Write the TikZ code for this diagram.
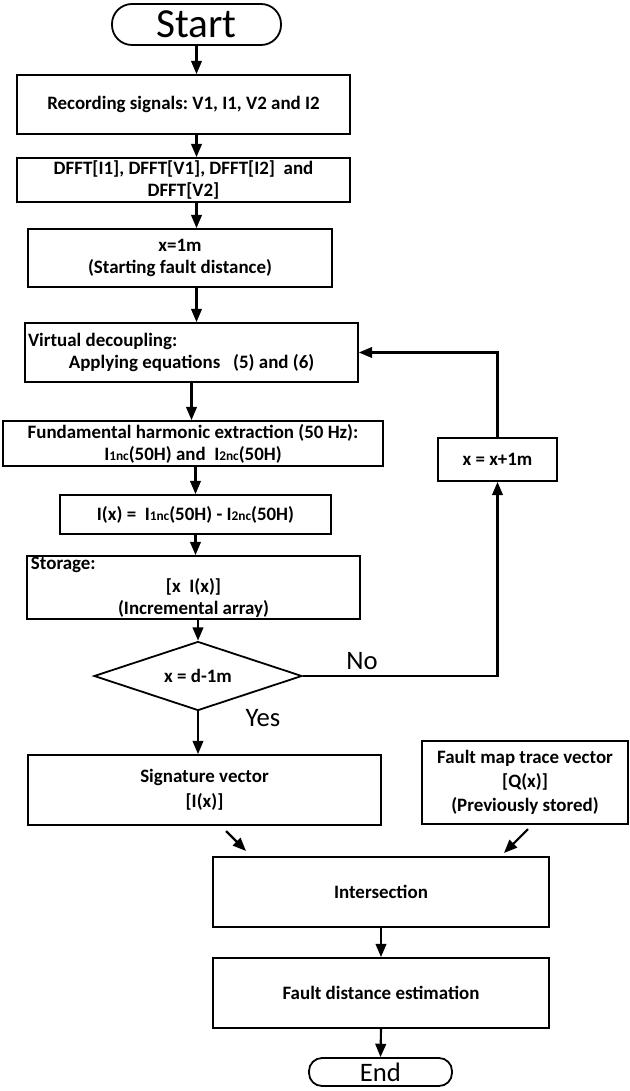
\documentclass[tikz,border=0pt]{standalone}
\usepackage{fontspec}
\setmainfont{Carlito}
\usetikzlibrary{shapes.geometric,arrows.meta}
\newdimen\pxu \pxu=0.75pt
\newcommand\sbs[1]{\raisebox{-0.6pt}{\fontsize{10}{10}\selectfont #1}}
\frenchspacing
\begin{document}
\begin{tikzpicture}[x=0.75pt,y=-0.75pt,
  box/.style={draw, line width=1.35pt, inner sep=0pt, align=center,
    font=\bfseries\fontsize{14.2}{16.5}\selectfont},
  term/.style={draw, line width=1.35pt, inner sep=0pt},
  arr/.style={line width=1.6pt, -{Triangle[length=10pt,width=8pt]}},
  lbl/.style={inner sep=0pt, font=\fontsize{20}{20}\selectfont}]
\useasboundingbox (0,0) rectangle (630,1091);

\node[term, rounded corners=20\pxu, minimum width=169\pxu, minimum height=41\pxu,
  font=\fontsize{31}{31}\selectfont] (start) at (196.5,24.5) {Start};
\node[box, minimum width=333\pxu, minimum height=59\pxu] (rec) at (183.5,104.5)
  {Recording signals: V1, I1, V2 and I2};
\node[box, minimum width=333\pxu, minimum height=44\pxu] (dfft) at (183.5,180)
  {DFFT[I1], DFFT[V1], DFFT[I2]\ \ and\\DFFT[V2]};
\node[box, minimum width=304\pxu, minimum height=58\pxu] (xone) at (180,258)
  {x=1m\\(Starting fault distance)};
\node[box, minimum width=333\pxu, minimum height=59\pxu] (virt) at (191.5,352.5)
  {\parbox{327\pxu}{\centering\makebox[\hsize][l]{Virtual decoupling:}\\Applying equations\ \ \ (5) and (6)}};
\node[box, minimum width=380\pxu, minimum height=45\pxu] (fund) at (193,443.5)
  {Fundamental harmonic extraction (50 Hz):\\I\sbs{1nc}(50H) and\ \ I\sbs{2nc}(50H)};
\node[box, minimum width=271\pxu, minimum height=39\pxu] (ix) at (195.5,514.5)
  {I(x) =\ \ I\sbs{1nc}(50H) - I\sbs{2nc}(50H)};
\node[box, minimum width=333\pxu, minimum height=63\pxu,
  font=\bfseries\fontsize{14.2}{16.9}\selectfont] (stor) at (193.5,587.5)
  {\raisebox{-4\pxu}{\parbox{325\pxu}{\centering\makebox[\hsize][l]{Storage:}\\{}[x\ \ I(x)]\\(Incremental array)}}};
\node[box, diamond, aspect=3, minimum width=208\pxu, minimum height=69\pxu] (dia) at (198,676)
  {x = d-1m};
\node[box, minimum width=119\pxu, minimum height=43\pxu] (inc) at (497.5,459.5) {x = x+1m};
\node[box, minimum width=353\pxu, minimum height=70\pxu,
  font=\bfseries\fontsize{14.2}{18.75}\selectfont] (sig) at (204.5,790)
  {Signature vector\\{}[I(x)]};
\node[box, minimum width=206\pxu, minimum height=83\pxu,
  font=\bfseries\fontsize{14.2}{18}\selectfont] (fmap) at (525,782.5)
  {Fault map trace vector\\{}[Q(x)]\\(Previously stored)};
\node[box, minimum width=336\pxu, minimum height=70\pxu] (inter) at (381,892) {Intersection};
\node[box, minimum width=336\pxu, minimum height=70\pxu] (fde) at (381,993) {Fault distance estimation};
\node[term, rounded corners=13\pxu, minimum width=143\pxu, minimum height=28\pxu,
  font=\fontsize{20}{20}\selectfont] (end) at (380.5,1072) {End};

\node[lbl] (no) at (362,661) {No};
\node[lbl] (yes) at (263,718) {Yes};

\draw[arr] (start.south) -- (start.south |- rec.north);
\draw[arr] (start.south |- rec.south) -- (start.south |- dfft.north);
\draw[arr] (start.south |- dfft.south) -- (start.south |- xone.north);
\draw[arr] (start.south |- xone.south) -- (start.south |- virt.north);
\draw[arr] (virt.south) -- (virt.south |- fund.north);
\draw[arr] (ix.north |- fund.south) -- (ix.north);
\draw[arr] (ix.south) -- (ix.south |- stor.north);
\draw[arr] (dia.north |- stor.south) -- (dia.north);
\draw[arr] (dia.south) -- (dia.south |- sig.north);
\draw[arr] (dia.east) -| (inc.south);
\draw[arr] (inc.north) |- (virt.east);
\coordinate (s1) at (226,831);
\coordinate (e1) at (246,851);
\coordinate (s2) at (528,829);
\coordinate (e2) at (504,853);
\draw[arr] (s1) -- (e1);
\draw[arr] (s2) -- (e2);
\draw[arr] (inter.south) -- (fde.north);
\draw[arr] (fde.south) -- (end.north);
\end{tikzpicture}
\end{document}
